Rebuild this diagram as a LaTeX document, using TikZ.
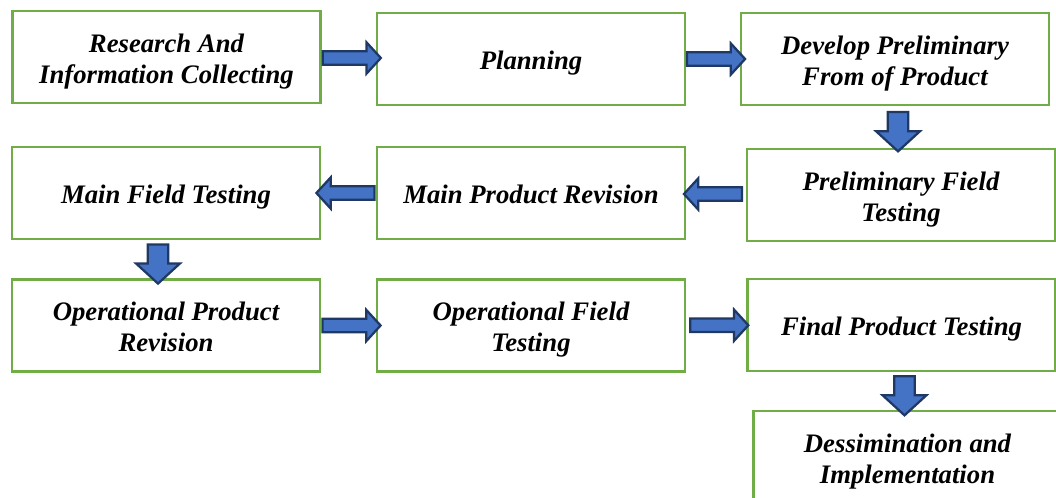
\documentclass[tikz,border=0pt]{standalone}
\usepackage{fontspec}
\setmainfont{Liberation Serif}
\usetikzlibrary{shapes.arrows}
\definecolor{boxgreen}{HTML}{70AD47}
\definecolor{arrowblue}{HTML}{4472C4}
\definecolor{arrowedge}{HTML}{1F3864}

\begin{document}
\begin{tikzpicture}[x=0.025cm, y=-0.025cm,
  stage/.style={draw=boxgreen, line width=1.9pt, fill=white, minimum width=7.7cm,
    minimum height=2.3cm, align=center, font=\fontsize{19}{22}\selectfont\bfseries\itshape,
    text height=20pt, text depth=5pt},
  twoline/.style={stage, text height=42pt},
  flow/.style={single arrow, draw=arrowedge, fill=arrowblue, line width=1.6pt,
    single arrow tip angle=95, minimum width=0pt},
  hflow/.style={flow, inner sep=0.14cm, single arrow head extend=0.22cm, minimum height=1.45cm},
  vflow/.style={flow, inner sep=0.23cm, single arrow head extend=0.29cm, minimum height=0.98cm,
    shape border rotate=270}]
\useasboundingbox (0,0) rectangle (1056,498);

% stages, row by row
\node[twoline] (research) at (166.5,57) {Research And\\Information Collecting};
\node[stage] (plan) at (531,59) {Planning};
\node[twoline] (develop) at (895,59) {Develop Preliminary\\From of Product};
\node[stage] (mainfield) at (166,193) {Main Field Testing};
\node[stage] (mainrev) at (531,193) {Main Product Revision};
\node[twoline] (prelim) at (901,195) {Preliminary Field\\Testing};
\node[twoline] (oprev) at (166,325.5) {Operational Product\\Revision};
\node[twoline] (opfield) at (531,325.5) {Operational Field\\Testing};
\node[stage] (final) at (901.5,325) {Final Product Testing};
\node[twoline] (dissem) at (907.5,457) {Dessimination and\\Implementation};

% block arrows between the stages
\path (research.east) -- node[hflow] {} (plan.west);
\path (plan.east) -- node[hflow] {} (develop.west);
\path (develop.south) -- node[vflow] {} (prelim.north);
\path (prelim.west) -- node[hflow, shape border rotate=180] {} (mainrev.east);
\path (mainrev.west) -- node[hflow, shape border rotate=180] {} (mainfield.east);
\path (mainfield.south) -- node[vflow, xshift=-0.2cm] {} (oprev.north);
\path (oprev.east) -- node[hflow] {} (opfield.west);
\path (opfield.east) -- node[hflow] {} (final.west);
\path (final.south) -- node[vflow] {} (dissem.north);
\end{tikzpicture}
\end{document}
